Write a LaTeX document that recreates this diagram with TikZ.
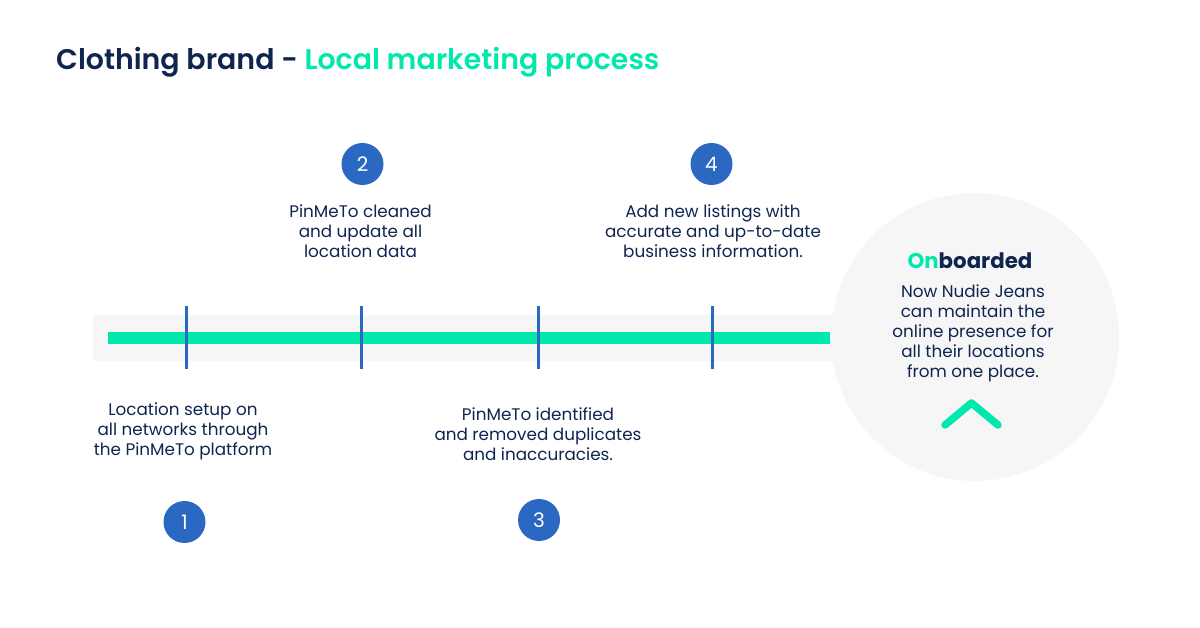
\documentclass[tikz,border=0pt]{standalone}
\usepackage{fontspec}
\setmainfont{Poppins}
\definecolor{navy}{HTML}{0F2550}
\definecolor{mint}{HTML}{00E8AC}
\definecolor{pale}{HTML}{F6F6F6}
\definecolor{marker}{HTML}{2B68C1}
\tikzset{
  body/.style={align=center,text=navy,font=\fontsize{16.8}{20}\selectfont,inner sep=0pt},
  badge/.style={circle,fill=marker,text=white,minimum size=42pt,inner sep=0pt,font=\fontsize{20}{24}\selectfont},
  tick/.style={draw=marker,line width=3pt}
}
\begin{document}
\begin{tikzpicture}[x=1pt,y=-1pt]
   \useasboundingbox (0,0) rectangle (1200,628);

   \fill [pale] (93,315) rectangle (840,361);
   \node (end-circle) at (975,337) [circle,fill=pale,minimum size=288pt,inner sep=0pt] {};
   \fill [mint] (108,332) rectangle (830,344);

   \foreach \x in {186,361,538,712}
      \draw [tick] (\x,306) -- (\x,369);

   \node (title) at (56,60) [anchor=west,yshift=-2pt,inner sep=0pt,text=navy,font=\fontsize{28.4}{32}\selectfont\fontspec{Poppins SemiBold}] {Clothing brand - \textcolor{mint}{Local marketing process}};

   \node (badge-1) at (184.5,522) [badge] {1};
   \node (badge-2) at (362.5,164) [badge] {2};
   \node (badge-3) at (539,520) [badge] {3};
   \node (badge-4) at (711.5,164) [badge] {4};

   \node (step-1) at (183,431) [body] {Location setup on\\all networks through\\the PinMeTo platform};
   \node (step-2) at (360.5,231) [body] {PinMeTo cleaned\\and update all\\location data};
   \node (step-3) at (538,434) [body] {PinMeTo identified\\and removed duplicates\\and inaccuracies.};
   \node (step-4) at (713,231) [body] {Add new listings with\\accurate and up-to-date\\business information.};

   \node (onboarded) at (970,261) [inner sep=0pt,text=navy,font=\fontsize{21.3}{26}\selectfont\fontspec{Poppins Bold}] {\textcolor{mint}{On}boarded};
   \node (closing) at (973,331) [yshift=-2pt,body] {Now Nudie Jeans\\can maintain the\\online presence for\\all their locations\\from one place.};

   \draw [mint,line width=7.5pt,line cap=round,line join=round] (945,425) -- (971.5,403) -- (998,425);

\end{tikzpicture}
\end{document}
